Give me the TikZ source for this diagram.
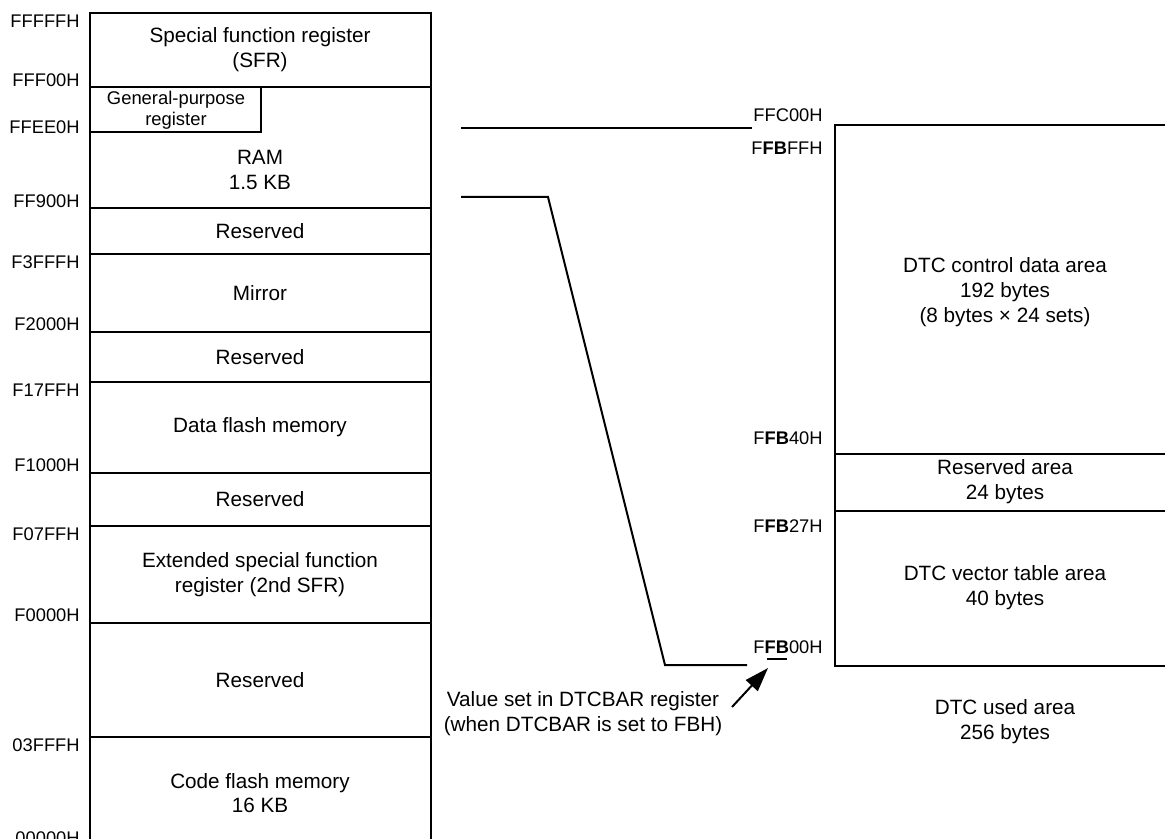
\documentclass[tikz,border=0pt]{standalone}
\usepackage{fontspec}
\setmainfont{Liberation Sans}
\usetikzlibrary{arrows.meta}
\newcommand\ulfb{\setbox0\hbox{\textbf{FB}}\rlap{\hspace{1pt}\rule[-3.25pt]{\dimexpr\wd0-2pt\relax}{1pt}}\box0\relax}
\begin{document}
\begin{tikzpicture}[x=0.5pt,y=-0.5pt,
  box/.style={draw, line width=1pt},
  conn/.style={draw, line width=1pt},
  maintext/.style={font=\fontsize{10.35pt}{12.4pt}\selectfont, align=center, inner sep=0pt},
  gptext/.style={font=\fontsize{9.2pt}{10.6pt}\selectfont, align=center, inner sep=0pt},
  addrL/.style={font=\fontsize{9.15pt}{11pt}\selectfont, inner sep=0pt, anchor=east},
  addrR/.style={font=\fontsize{9.15pt}{11pt}\selectfont, inner sep=0pt, anchor=east}
]
\useasboundingbox (0,0) rectangle (1165,839);
\fill[white] (0,0) rectangle (1165,839);
\clip (0,0) rectangle (1165,839);

% ---------- left memory map ----------
\draw[box] (90,13) rectangle (431,849);
\foreach \yy in {87,208,254,332,382,473,526,623,737}
  \draw[box] (90,\yy) -- (431,\yy);
\draw[box] (90,87) rectangle (261,132);

\node[maintext] (sfr)  at (260,50)  {Special function register\\(SFR)};
\node[gptext]   (gpr)  at (176,110) {General-purpose\\register};
\node[maintext] (ram)  at (260,170) {RAM\\1.5 KB};
\node[maintext] (res1) at (260,231) {Reserved};
\node[maintext] (mir)  at (260,293) {Mirror};
\node[maintext] (res2) at (260,357) {Reserved};
\node[maintext] (dfl)  at (260,427) {Data flash memory};
\node[maintext] (res3) at (260,499) {Reserved};
\node[maintext] (esfr) at (260,575) {Extended special function\\register (2nd SFR)};
\node[maintext] (res4) at (260,680) {Reserved};
\node[maintext] (cfl)  at (260,793) {Code flash memory\\16 KB};

\node[addrL] (aFFFFF) at (80,21)  {FFFFFH};
\node[addrL] (aFFF00) at (80,80)  {FFF00H};
\node[addrL] (aFFEE0) at (80,127) {FFEE0H};
\node[addrL] (aFF900) at (80,201) {FF900H};
\node[addrL] (aF3FFF) at (80,262) {F3FFFH};
\node[addrL] (aF2000) at (80,324) {F2000H};
\node[addrL] (aF17FF) at (80,390) {F17FFH};
\node[addrL] (aF1000) at (80,465) {F1000H};
\node[addrL] (aF07FF) at (80,534) {F07FFH};
\node[addrL] (aF0000) at (80,615) {F0000H};
\node[addrL] (a03FFF) at (80,745) {03FFFH};
\node[addrL] (a00000) at (80,838) {00000H};

% ---------- right DTC area ----------
\draw[box] (835,125) rectangle (1176,666);
\draw[box] (835,454) -- (1176,454);
\draw[box] (835,511) -- (1176,511);

\node[maintext] (ctl)  at (1005,292) {DTC control data area\\192 bytes\\(8 bytes × 24 sets)};
\node[maintext] (resa) at (1005,482) {Reserved area\\24 bytes};
\node[maintext] (vec)  at (1005,588) {DTC vector table area\\40 bytes};
\node[maintext] (used) at (1005,722) {DTC used area\\256 bytes};

\node[addrR] (rFFC00) at (823,115) {FFC00H};
\node[addrR] (rFFBFF) at (823,148) {F\textbf{FB}FFH};
\node[addrR] (rFFB40) at (823,438) {F\textbf{FB}40H};
\node[addrR] (rFFB27) at (823,526) {F\textbf{FB}27H};
\node[addrR] (rFFB00) at (823,650) {F\ulfb{}00H};

% ---------- connectors ----------
\coordinate (a1) at (461,128);
\coordinate (a2) at (752,128);
\draw[conn] (a1) -- (a2);

\coordinate (b1) at (461,197);
\coordinate (b2) at (548,197);
\coordinate (b3) at (665,665);
\coordinate (b4) at (747,665);
\draw[conn] (b1) -- (b2) -- (b3) -- (b4);

\node[maintext] (dtcbar) at (583,714) {Value set in DTCBAR register\\(when DTCBAR is set to FBH)};
\coordinate (t1) at (732,707);
\coordinate (t2) at (768,668);
\draw[conn, -{Triangle[length=12pt,width=8pt]}] (t1) -- (t2);
\end{tikzpicture}
\end{document}
